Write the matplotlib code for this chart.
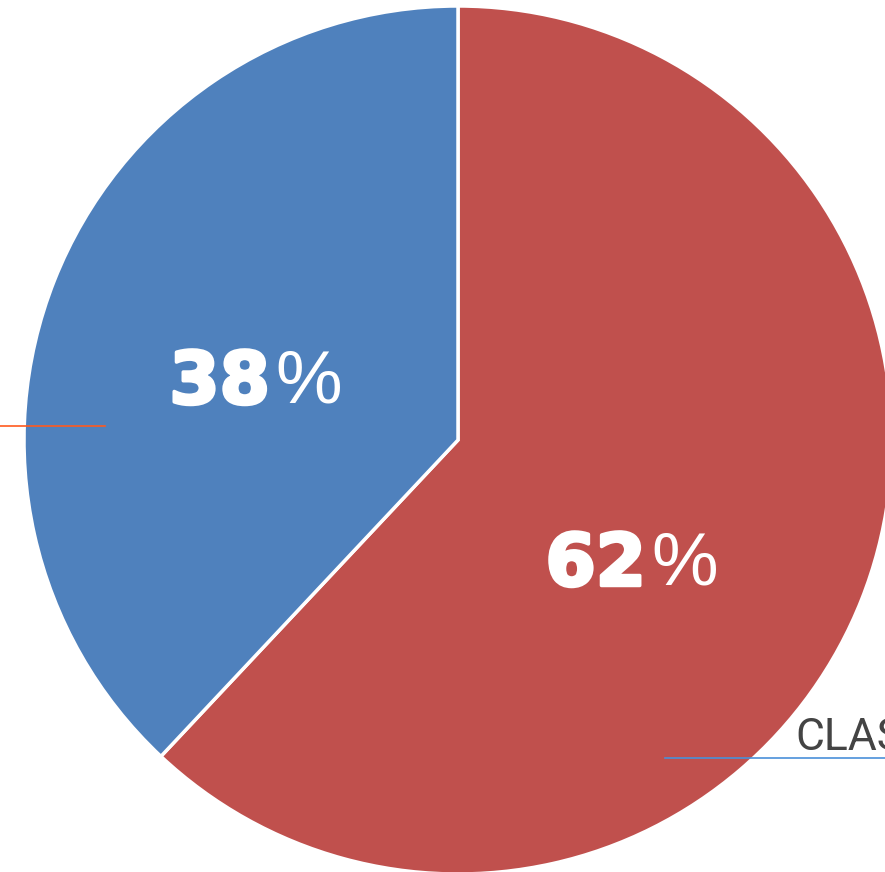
import matplotlib.pyplot as plt
import matplotlib.patheffects as pe

# share of each slice, drawn clockwise from 12 o'clock
shares = [62, 38]
colors = ['#C0504D', '#4F81BD']
# where the percentage text sits (pixel coords, y up)
label_pos = [(646, 306), (270, 488)]

fig = plt.figure(figsize=(8.85, 8.72), dpi=100)
ax = fig.add_axes([0, 0, 1, 1])

ax.pie(
    shares,
    colors=colors,
    startangle=90,
    counterclock=False,
    center=(458, 432),
    radius=434,
    frame=True,
    wedgeprops=dict(edgecolor='white', linewidth=2.5),
)
ax.set_xlim(0, 885)
ax.set_ylim(0, 872)
ax.set_aspect('equal')
ax.axis('off')

heavy = [pe.withStroke(linewidth=2.5, foreground='white')]
for share, (x, y) in zip(shares, label_pos):
    ax.text(x, y, str(share), color='white', fontsize=52,
            fontweight='bold', family='DejaVu Sans',
            ha='right', va='center', path_effects=heavy)
    ax.text(x + 5, y + 1, '%', color='white', fontsize=54,
            family=['DejaVu Sans Condensed', 'Liberation Sans'],
            ha='left', va='center')

# leader lines and the clipped category label
ax.plot([0, 105], [446, 446], color='#FF5A1F', linewidth=1.2)
ax.plot([665, 885], [114, 114], color='#4A90D9', linewidth=1.2)
ax.text(795, 122, 'CLASS', color='#444444', fontsize=32,
        family='Roboto', ha='left', va='baseline')

fig.savefig('out.png', dpi=100)
